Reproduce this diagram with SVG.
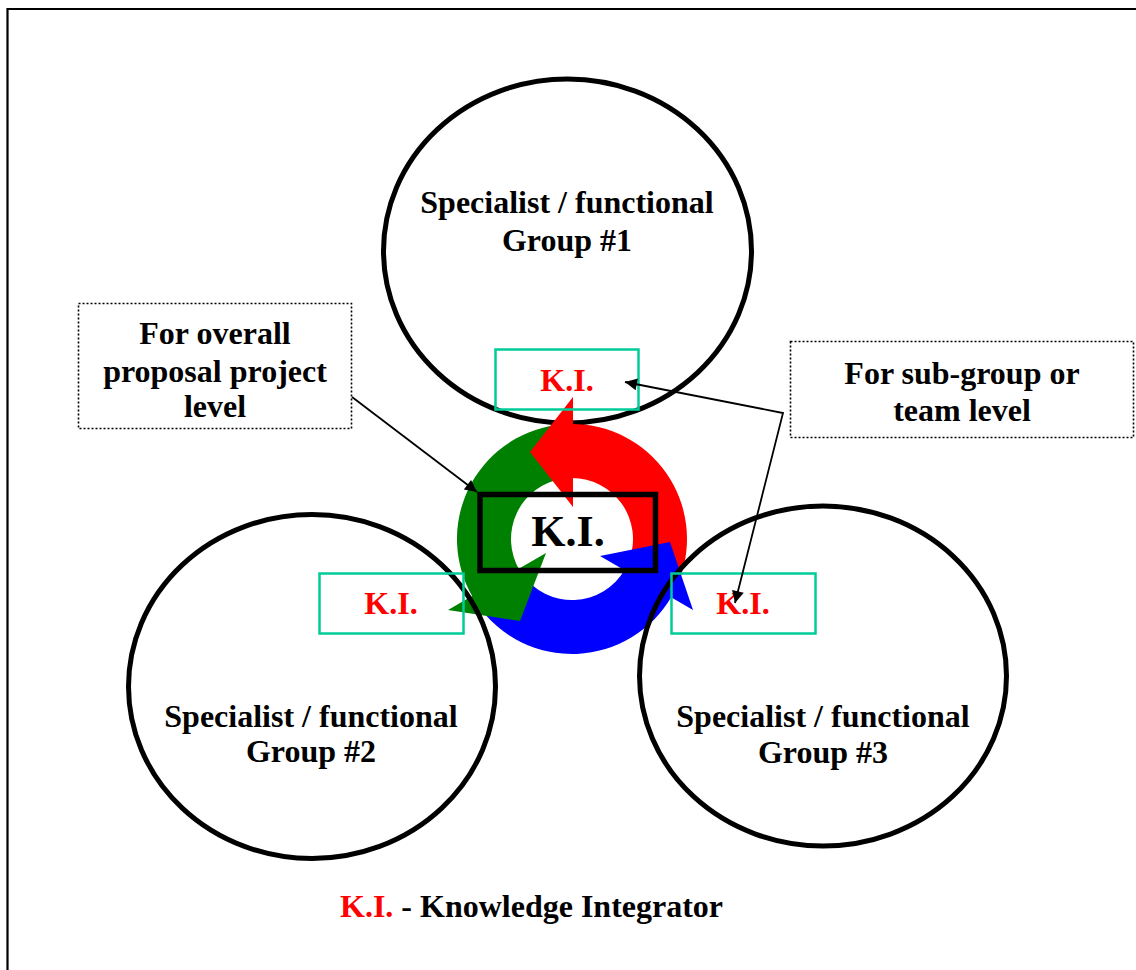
<svg xmlns="http://www.w3.org/2000/svg" width="1136" height="970" viewBox="0 0 1136 970">
<defs>
<style>
.t{font-family:"Liberation Serif","Times New Roman",serif;font-weight:bold;font-size:32px;text-anchor:middle;fill:#000}
.r{fill:#FF0000}
.grp{fill:none;stroke:#000;stroke-width:5}
.ki{fill:none;stroke:#00CC99;stroke-width:2.5}
.call{fill:#fff;stroke:#000;stroke-width:1.6;stroke-dasharray:2 2}
.con{fill:none;stroke:#000;stroke-width:1.8}
</style>
<marker id="ah" viewBox="0 0 10 10" refX="10" refY="5" markerWidth="17" markerHeight="12" markerUnits="userSpaceOnUse" orient="auto-start-reverse">
<path d="M0,0 L10,5 L0,10 Z" fill="#000"/>
</marker>
</defs>
<rect width="1136" height="970" fill="#fff"/>
<path d="M7.5,970 V9 H1136" fill="none" stroke="#000" stroke-width="2.2"/>

<g id="group1">
<ellipse class="grp" cx="567.5" cy="251" rx="184" ry="172"/>
<text class="t" x="567" y="213">Specialist / functional</text>
<text class="t" x="567" y="251">Group #1</text>
</g>

<g id="cycle">
<path d="M572,424 A115,115 0 0 1 680.06,578.33 L629.32,559.86 A61,61 0 0 0 572,478 Z" fill="#FF0000"/>
<path d="M671.59,596.5 A115,115 0 0 1 477.8,604.96 L522.03,573.99 A61,61 0 0 0 624.83,569.5 Z" fill="#0000FF"/>
<path d="M473.42,598.23 A115,115 0 0 1 556,425.12 L563.51,478.59 A61,61 0 0 0 519.71,570.42 Z" fill="#008000"/>
<polygon points="573,397 573,507 530,452" fill="#FF0000"/>
<polygon points="600,556 693,610 670,542" fill="#0000FF"/>
<polygon points="546,553 448,610 520,621" fill="#008000"/>
</g>

<g id="group2">
<ellipse class="grp" cx="312" cy="686.5" rx="183.5" ry="172"/>
<text class="t" x="311" y="727">Specialist / functional</text>
<text class="t" x="311" y="762">Group #2</text>
</g>

<g id="group3">
<ellipse class="grp" cx="823" cy="676" rx="183.5" ry="170"/>
<text class="t" x="823" y="727">Specialist / functional</text>
<text class="t" x="823" y="763">Group #3</text>
</g>

<g id="ki-center">
<rect x="480" y="494.5" width="175.5" height="76" fill="none" stroke="#000" stroke-width="5.5"/>
<text class="t" x="568" y="546" style="font-size:44px">K.I.</text>
</g>

<g id="ki1">
<rect class="ki" x="495.5" y="349.5" width="143" height="60"/>
<text class="t r" x="567" y="391">K.I.</text>
</g>
<g id="ki2">
<rect class="ki" x="319.5" y="573.5" width="144" height="60"/>
<text class="t r" x="391" y="614">K.I.</text>
</g>
<g id="ki3">
<rect class="ki" x="671.5" y="573.5" width="144" height="60"/>
<text class="t r" x="743" y="614">K.I.</text>
</g>

<g id="callout-overall">
<rect class="call" x="78.5" y="303.5" width="273" height="125"/>
<text class="t" x="215" y="344">For overall</text>
<text class="t" x="215" y="382">proposal project</text>
<text class="t" x="215" y="417">level</text>
</g>

<g id="callout-sub">
<rect class="call" x="790.5" y="341.5" width="343" height="96"/>
<text class="t" x="962" y="384">For sub-group or</text>
<text class="t" x="962" y="421">team level</text>
</g>

<g id="connectors">
<line class="con" x1="352" y1="397" x2="477" y2="492" marker-end="url(#ah)"/>
<polyline class="con" points="625,382 783,413 735,603" marker-start="url(#ah)" marker-end="url(#ah)"/>
</g>

<g id="legend">
<text class="t" x="340" y="917" style="text-anchor:start"><tspan class="r">K.I.</tspan> - Knowledge Integrator</text>
</g>
</svg>
